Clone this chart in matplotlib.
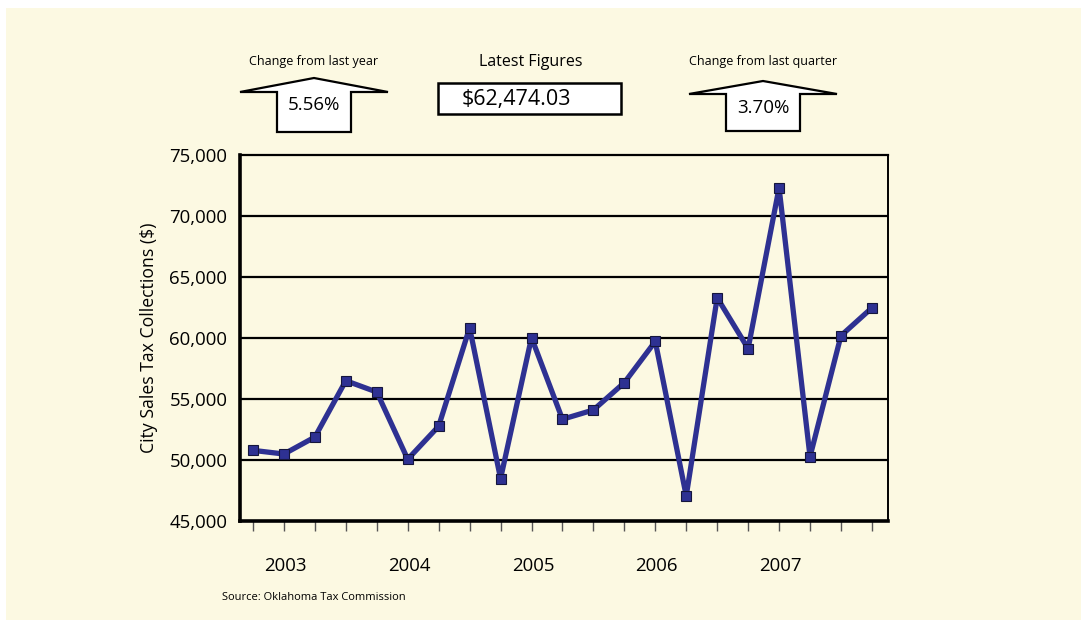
import matplotlib
matplotlib.use("Agg")
import matplotlib.pyplot as plt
from matplotlib.patches import Polygon, Rectangle
from matplotlib.transforms import blended_transform_factory

plt.rcParams['font.family'] = ['Open Sans', 'DejaVu Sans']

# quarterly city sales tax collections, 2003-2007
quarters = list(range(21))
collections = [50790, 50490, 51880, 56500, 55570, 50060, 52770, 60840, 48470, 60030,
               53340, 54100, 56340, 59720, 47050, 63300, 59130, 72320, 50270, 60190, 62474.03]
year_pos = [1, 5, 9, 13, 17]
year_labels = ["2003", "2004", "2005", "2006", "2007"]
y_ticks = [45000, 50000, 55000, 60000, 65000, 70000, 75000]

year_change = "5.56%"
quarter_change = "3.70%"
latest = "$62,474.03"

cream = "#fcf9e2"
blue = "#2e3192"

W, H = 1081, 620
fig = plt.figure(figsize=(W / 100, H / 100), dpi=100, facecolor="white")

# background layer in pixel coordinates
bg = fig.add_axes([0, 0, 1, 1], zorder=0)
bg.set_xlim(0, W)
bg.set_ylim(H, 0)
bg.axis("off")
bg.add_patch(Rectangle((6, 8), W, H, facecolor=cream, edgecolor="none"))


def up_arrow(cx, tip_y, base_y, bottom, head_half, body_half):
    pts = [(cx - head_half, base_y), (cx, tip_y), (cx + head_half, base_y),
           (cx + body_half, base_y), (cx + body_half, bottom),
           (cx - body_half, bottom), (cx - body_half, base_y)]
    bg.add_patch(Polygon(pts, closed=True, facecolor="white", edgecolor="black", lw=1.6))


up_arrow(314, 78, 92, 132, 74, 37)
bg.text(314, 62, "Change from last year", ha="center", va="center", fontsize=9)
bg.text(314, 105, year_change, ha="center", va="center", fontsize=13.5)

up_arrow(763, 81, 94, 131, 74, 37)
bg.text(763, 62, "Change from last quarter", ha="center", va="center", fontsize=9)
bg.text(763, 108, quarter_change, ha="center", va="center", fontsize=13.5)

bg.add_patch(Rectangle((438, 83), 183, 31, facecolor="white", edgecolor="black", lw=1.8))
bg.text(531, 62, "Latest Figures", ha="center", va="center", fontsize=11.5, fontweight="medium")
bg.text(462, 99, latest, ha="left", va="center", fontsize=15.5)

bg.text(222, 597, "Source: Oklahoma Tax Commission", ha="left", va="center", fontsize=8)

# main chart
ax = fig.add_axes([240 / W, 1 - 521 / H, 648 / W, 366 / H], zorder=1)
ax.set_facecolor(cream)
ax.plot(quarters, collections, color=blue, lw=3.8, marker="s", markersize=6.5,
        markerfacecolor=blue, markeredgecolor="#15163d", markeredgewidth=0.8, zorder=3)

ax.set_xlim(-0.42, 20.52)
ax.set_ylim(45000, 75000)
ax.set_yticks(y_ticks)
ax.set_yticklabels([f"{v:,}" for v in y_ticks], fontsize=13.4)
for v in y_ticks[1:-1]:
    ax.axhline(v, color="black", lw=1.6, zorder=2)

ax.set_xticks(quarters)
ax.set_xticklabels([])
ax.tick_params(axis="x", direction="out", length=7, width=1, color="#555555")
ax.tick_params(axis="y", length=0, pad=9)

# year labels under the quarter ticks
trans = blended_transform_factory(ax.transData, fig.transFigure)
for xp, lab in zip(year_pos, year_labels):
    ax.text(xp + 0.05, 1 - 566 / H, lab, transform=trans, ha="center", va="center", fontsize=13.4)

ax.spines["left"].set_linewidth(2.6)
ax.spines["bottom"].set_linewidth(2.6)
ax.spines["top"].set_linewidth(1.6)
ax.spines["right"].set_linewidth(1.4)

ax.set_ylabel("City Sales Tax Collections ($)", fontsize=12.7, labelpad=8)

fig.savefig("out.png", dpi=100, facecolor="white")
